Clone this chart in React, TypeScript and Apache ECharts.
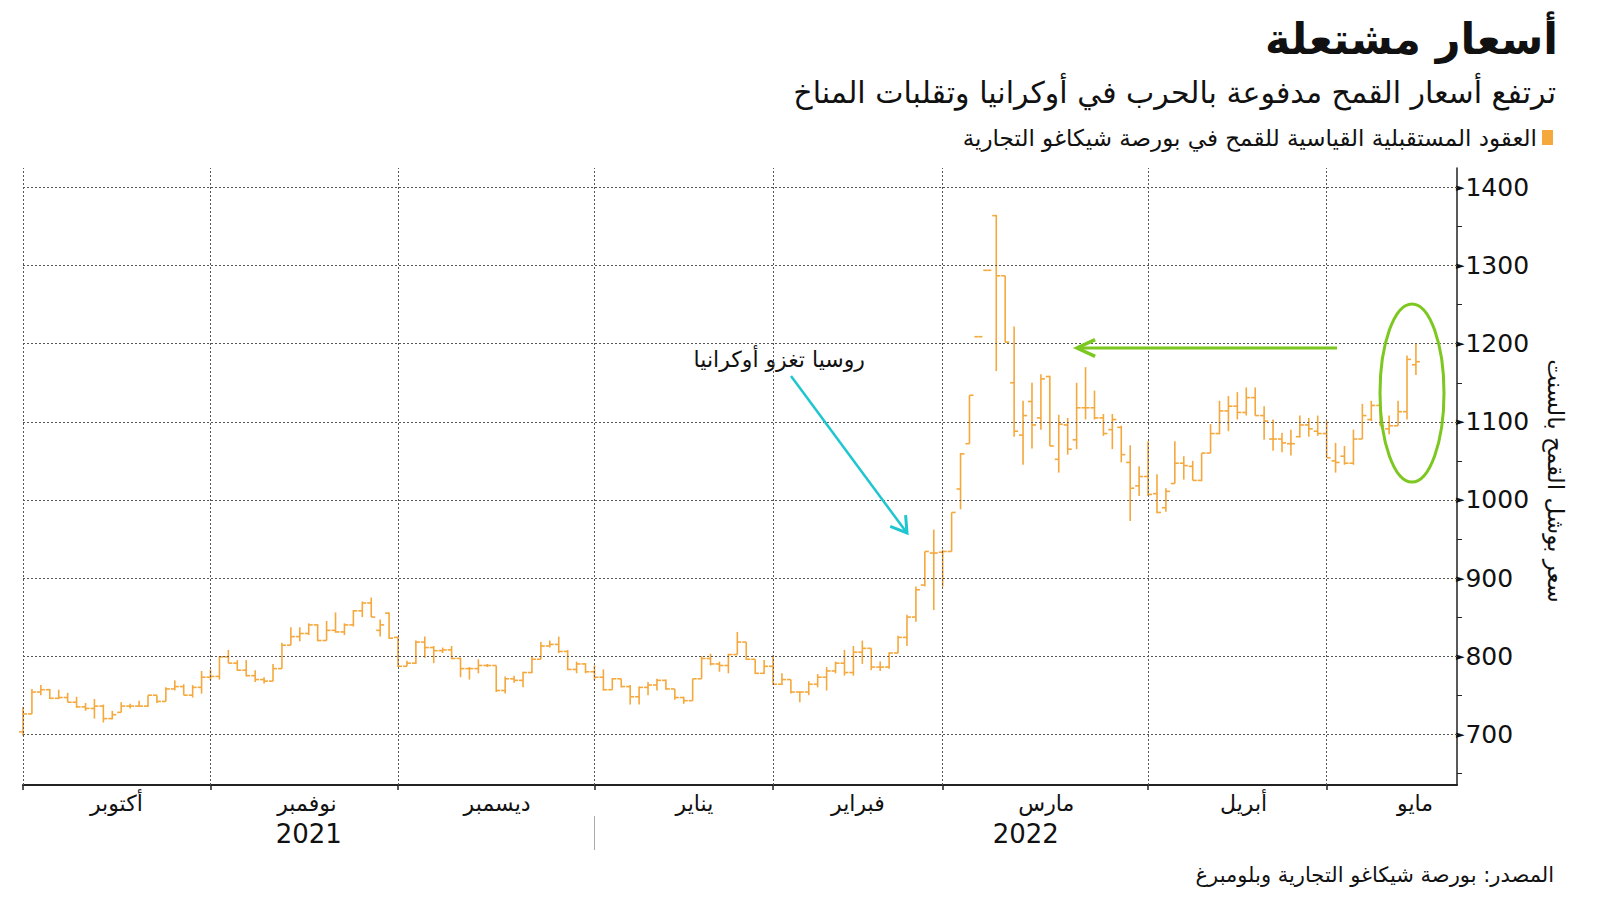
import React, { useEffect, useRef } from 'react';
import * as echarts from 'echarts';

// ---------- axis / category data ----------
const monthLabels = ['أكتوبر', 'نوفمبر', 'ديسمبر', 'يناير', 'فبراير', 'مارس', 'أبريل', 'مايو'];
const monthTradingDays = [21, 21, 22, 20, 19, 23, 20]; // Oct..Apr; May is the last, partial month
const monthLabelAt = [10.45, 31.8, 53.1, 75.2, 93.5, 114.6, 136.7, 155.9]; // trading-day position of each month label
const xAxisEnd = 160.6; // trading-day slots covered by the axis
const yearLabels = ['2021', '2022'];
const yearLabelAt = [32, 112.3];
const yearBreakAt = 64;
const yTickLabels = [700, 800, 900, 1000, 1100, 1200, 1300, 1400];
const yMinorTicks = [650, 750, 850, 950, 1050, 1150, 1250, 1350];
const gridValues = [700, 800, 900, 1000, 1100, 1200, 1300, 1400];

// ---------- OHLC values (cents per bushel): [open, high, low, close] ----------
const octBars = [
  [703, 735, 698, 726], [726, 758, 726, 754], [754, 763, 750, 757], [757, 758, 745, 746],
  [746, 757, 745, 747], [747, 753, 741, 741], [741, 748, 734, 735], [735, 740, 730, 733],
  [733, 745, 720, 736], [736, 738, 715, 720], [720, 730, 719, 725], [728, 741, 728, 736],
  [736, 739, 733, 736], [736, 743, 735, 736], [736, 750, 735, 750], [750, 750, 740, 742],
  [742, 760, 742, 758], [758, 769, 756, 761], [761, 764, 750, 750], [750, 763, 747, 760],
  [760, 781, 752, 773],
];
const novBars = [
  [773, 783, 769, 774], [774, 800, 770, 799], [799, 808, 791, 791], [791, 795, 781, 782],
  [782, 795, 774, 775], [775, 782, 767, 770], [770, 773, 765, 768], [768, 790, 768, 784],
  [784, 817, 784, 814], [814, 837, 814, 825], [825, 837, 819, 829], [829, 842, 827, 840],
  [840, 841, 819, 820], [820, 845, 820, 833], [833, 856, 830, 831], [831, 842, 827, 840],
  [840, 859, 838, 858], [858, 870, 850, 868], [868, 875, 850, 850], [833, 847, 825, 840],
  [855, 856, 822, 823],
];
const decBars = [
  [824, 825, 786, 787], [787, 794, 787, 791], [791, 820, 790, 818], [818, 825, 798, 811],
  [811, 813, 791, 807], [807, 811, 804, 808], [808, 813, 796, 797], [797, 798, 773, 784],
  [784, 786, 770, 784], [784, 796, 778, 788], [788, 790, 786, 788], [788, 788, 754, 756],
  [756, 774, 752, 771], [771, 775, 766, 769], [769, 780, 760, 779], [779, 800, 778, 796],
  [796, 818, 796, 813], [813, 820, 811, 815], [815, 825, 804, 806], [806, 808, 782, 783],
  [783, 793, 778, 790], [790, 791, 778, 780],
];
const janBars = [
  [780, 788, 769, 773], [773, 783, 756, 757], [757, 772, 757, 771], [771, 771, 760, 761],
  [761, 763, 738, 748], [748, 761, 738, 760], [760, 767, 750, 763], [763, 771, 756, 769],
  [769, 770, 757, 758], [758, 758, 744, 747], [747, 748, 739, 743], [743, 771, 743, 771],
  [771, 800, 771, 797], [797, 803, 788, 790], [790, 793, 780, 788], [788, 803, 778, 802],
  [802, 831, 802, 818], [818, 818, 795, 796], [796, 796, 777, 778], [778, 795, 777, 787],
];
const febBars = [
  [787, 801, 763, 764], [764, 778, 763, 770], [770, 770, 752, 754], [754, 755, 741, 754],
  [754, 768, 750, 764], [764, 777, 760, 773], [773, 786, 756, 781], [781, 793, 778, 791],
  [791, 808, 775, 779], [779, 813, 775, 805], [805, 820, 790, 810], [810, 810, 782, 786],
  [786, 793, 781, 786], [786, 805, 784, 804], [804, 826, 804, 824], [824, 853, 813, 850],
  [850, 889, 844, 885], [891, 934, 889, 934], [932, 962, 859, 932],
];
const marBars = [
  [933, 936, 889, 934], [934, 984, 934, 984], [1014, 1060, 988, 1059], [1072, 1134, 1072, 1134],
  [1209, 1209, 1209, 1209], [1294, 1294, 1294, 1294], [1364, 1365, 1165, 1287], [1287, 1287, 1202, 1202],
  [1150, 1222, 1081, 1088], [1083, 1127, 1045, 1108], [1126, 1150, 1066, 1096], [1105, 1161, 1090, 1155],
  [1158, 1159, 1069, 1069], [1052, 1109, 1035, 1097], [1096, 1105, 1058, 1065], [1077, 1150, 1065, 1118],
  [1118, 1170, 1103, 1118], [1118, 1140, 1103, 1105], [1105, 1110, 1082, 1085], [1090, 1110, 1065, 1103],
  [1093, 1095, 1048, 1058], [1048, 1070, 973, 1015], [1018, 1043, 1005, 1030],
];
const aprBars = [
  [1030, 1075, 1005, 1007], [1008, 1033, 983, 984], [990, 1015, 985, 1011], [1021, 1075, 1021, 1047],
  [1047, 1056, 1026, 1044], [1043, 1050, 1025, 1025], [1025, 1060, 1024, 1060], [1060, 1097, 1060, 1085],
  [1085, 1127, 1084, 1114], [1114, 1133, 1088, 1120], [1120, 1138, 1103, 1112], [1112, 1144, 1108, 1131],
  [1131, 1144, 1108, 1108], [1108, 1120, 1077, 1101], [1078, 1103, 1063, 1078], [1078, 1086, 1061, 1073],
  [1072, 1090, 1057, 1072], [1081, 1108, 1080, 1096], [1096, 1105, 1081, 1091], [1088, 1108, 1082, 1085],
];
const mayBars = [
  [1085, 1101, 1054, 1054], [1050, 1073, 1035, 1048], [1056, 1069, 1045, 1047], [1047, 1090, 1045, 1078],
  [1078, 1123, 1078, 1108], [1103, 1127, 1101, 1121], [1121, 1121, 1095, 1095], [1091, 1108, 1084, 1095],
  [1095, 1127, 1095, 1113], [1113, 1185, 1103, 1180], [1173, 1201, 1160, 1177],
];

const seriesName = 'العقود المستقبلية القياسية للقمح في بورصة شيكاغو التجارية';
const titleText = 'أسعار مشتعلة';
const subtitleText = 'ترتفع أسعار القمح مدفوعة بالحرب في أوكرانيا وتقلبات المناخ';
const sourceText = 'المصدر: بورصة شيكاغو التجارية وبلومبرغ';
const yAxisTitle = 'سعر بوشل القمح بالسنت';
const annotationText = 'روسيا تغزو أوكرانيا';

const AR = '"DejaVu Sans", sans-serif';
const NUM = '"DejaVu Sans", sans-serif';
const ORANGE = '#f5a83c';
const GREEN = '#7dc820';
const CYAN = '#1ec6cf';

function arrowHead(tx: number, ty: number, fx: number, fy: number, len: number, deg: number) {
  const a = Math.atan2(fy - ty, fx - tx);
  const r = (deg * Math.PI) / 180;
  return [
    [tx + len * Math.cos(a + r), ty + len * Math.sin(a + r)],
    [tx, ty],
    [tx + len * Math.cos(a - r), ty + len * Math.sin(a - r)],
  ];
}

function nearestLabel(v: number, at: number[], labels: string[]) {
  let best = -1;
  let bd = Infinity;
  at.forEach((p, k) => {
    const d = Math.abs(p - v);
    if (d < bd) { bd = d; best = k; }
  });
  return bd < 0.01 ? labels[best] : '';
}

export default function App() {
  const ref = useRef<HTMLDivElement>(null);

  useEffect(() => {
    if (!ref.current) return;
    const chart = echarts.init(ref.current, undefined, { renderer: 'svg' });

    const monthStarts: number[] = [0];
    monthTradingDays.forEach((n) => monthStarts.push(monthStarts[monthStarts.length - 1] + n));

    const allBars = [...octBars, ...novBars, ...decBars, ...janBars, ...febBars, ...marBars, ...aprBars, ...mayBars];
    const data = allBars.map((b, i) => [i, b[0], b[1], b[2], b[3]]);

    const cyanStart = [791, 376];
    const cyanTip = [907, 533];
    const greenStart = [1337, 348];
    const greenTip = [1077, 348];

    const gridLineStyle = { color: '#555', type: [2, 2], width: 1 };

    const option: any = {
      animation: false,
      backgroundColor: '#ffffff',
      title: [
        {
          text: titleText, right: 37, top: 12,
          textStyle: { fontFamily: AR, fontWeight: 'bold', fontSize: 43, color: '#111' },
        },
        {
          text: subtitleText, right: 39, top: 72,
          textStyle: { fontFamily: AR, fontWeight: 'normal', fontSize: 30, color: '#111' },
        },
        {
          text: sourceText, right: 41, top: 859,
          textStyle: { fontFamily: AR, fontWeight: 'normal', fontSize: 21, color: '#111' },
        },
      ],
      legend: {
        data: [seriesName], right: 42, top: 121, align: 'right', icon: 'rect',
        itemWidth: 11, itemHeight: 15, itemGap: 6,
        textStyle: { fontFamily: AR, fontSize: 23, color: '#111' },
      },
      grid: { left: 23, right: 143, top: 168, bottom: 116, containLabel: false },
      xAxis: [
        {
          type: 'value', min: 0, max: xAxisEnd, position: 'bottom',
          axisLine: { show: true, onZero: false, lineStyle: { color: '#222', width: 2 } },
          axisTick: { show: true, customValues: monthStarts, length: 5, lineStyle: { color: '#222', width: 1.5 } },
          splitLine: { show: false },
          axisLabel: {
            customValues: monthLabelAt,
            formatter: (v: number) => nearestLabel(v, monthLabelAt, monthLabels),
            fontFamily: AR, fontSize: 22, color: '#111', margin: 7,
          },
        },
        {
          type: 'value', min: 0, max: xAxisEnd, position: 'bottom', offset: 31,
          axisLine: { show: false, onZero: false },
          axisTick: { show: true, customValues: [yearBreakAt], length: 34, lineStyle: { color: '#aaa' } },
          splitLine: { show: false },
          axisLabel: {
            customValues: yearLabelAt,
            formatter: (v: number) => nearestLabel(v, yearLabelAt, yearLabels),
            fontFamily: NUM, fontSize: 26, color: '#111', margin: 5,
          },
        },
      ],
      yAxis: {
        type: 'value', position: 'right', min: 635, max: 1425, scale: true,
        axisLine: { show: true, onZero: false, lineStyle: { color: '#222', width: 1.5 } },
        axisTick: { show: true, customValues: yMinorTicks, length: 5, lineStyle: { color: '#222' } },
        splitLine: { show: false },
        axisLabel: {
          customValues: yTickLabels, margin: -1,
          formatter: (v: number) => `{t|►}{v|${v}}`,
          rich: {
            t: { fontSize: 11, color: '#111', fontFamily: NUM, verticalAlign: 'middle', padding: [0, 1, 0, 0] },
            v: { fontSize: 25, color: '#111', fontFamily: NUM, verticalAlign: 'middle' },
          },
        },
      },
      series: [
        {
          type: 'line', name: 'grid', data: [], silent: true, z: 1,
          markLine: {
            silent: true, symbol: 'none', label: { show: false },
            lineStyle: gridLineStyle,
            data: [
              ...gridValues.map((v) => ({ yAxis: v })),
              ...monthStarts.map((v) => ({ xAxis: v })),
            ],
          },
        },
        {
          type: 'custom', name: seriesName, z: 3,
          itemStyle: { color: ORANGE },
          encode: { x: 0, y: [1, 2, 3, 4] },
          data,
          renderItem: (_params: any, api: any) => {
            const i = api.value(0);
            const po = api.coord([i, api.value(1)]);
            const ph = api.coord([i, api.value(2)]);
            const pl = api.coord([i, api.value(3)]);
            const pc = api.coord([i, api.value(4)]);
            const w = api.size([1, 0])[0] * 0.45;
            const st = { stroke: ORANGE, lineWidth: 1.6 };
            return {
              type: 'group',
              children: [
                { type: 'line', shape: { x1: ph[0], y1: ph[1], x2: pl[0], y2: pl[1] }, style: st },
                { type: 'line', shape: { x1: po[0] - w, y1: po[1], x2: po[0], y2: po[1] }, style: st },
                { type: 'line', shape: { x1: pc[0], y1: pc[1], x2: pc[0] + w, y2: pc[1] }, style: st },
              ],
            };
          },
        },
      ],
      graphic: [
        {
          type: 'text', x: 1556, y: 481, rotation: -Math.PI / 2,
          style: { text: yAxisTitle, fontFamily: AR, fontSize: 23, fill: '#111', align: 'center', verticalAlign: 'middle' },
        },
        {
          type: 'text', x: 865, y: 359,
          style: { text: annotationText, fontFamily: AR, fontSize: 22, fill: '#111', align: 'right', verticalAlign: 'middle' },
        },
        {
          type: 'line', shape: { x1: cyanStart[0], y1: cyanStart[1], x2: cyanTip[0], y2: cyanTip[1] },
          style: { stroke: CYAN, lineWidth: 2.5 }, z: 10,
        },
        {
          type: 'polyline', shape: { points: arrowHead(cyanTip[0], cyanTip[1], cyanStart[0], cyanStart[1], 18, 32) },
          style: { stroke: CYAN, lineWidth: 3, fill: 'none' }, z: 10,
        },
        {
          type: 'line', shape: { x1: greenStart[0], y1: greenStart[1], x2: greenTip[0], y2: greenTip[1] },
          style: { stroke: GREEN, lineWidth: 3 }, z: 10,
        },
        {
          type: 'polyline', shape: { points: arrowHead(greenTip[0], greenTip[1], greenStart[0], greenStart[1], 20, 25) },
          style: { stroke: GREEN, lineWidth: 3.5, fill: 'none' }, z: 10,
        },
        {
          type: 'ellipse', shape: { cx: 1412, cy: 393, rx: 32, ry: 89 },
          style: { stroke: GREEN, lineWidth: 3, fill: 'none' }, z: 10,
        },
      ],
    };

    chart.setOption(option);
    return () => chart.dispose();
  }, []);

  return (
    <div
      ref={ref}
      style={{ position: 'fixed', left: 0, top: 0, width: 1600, height: 901, background: '#fff' }}
    />
  );
}
